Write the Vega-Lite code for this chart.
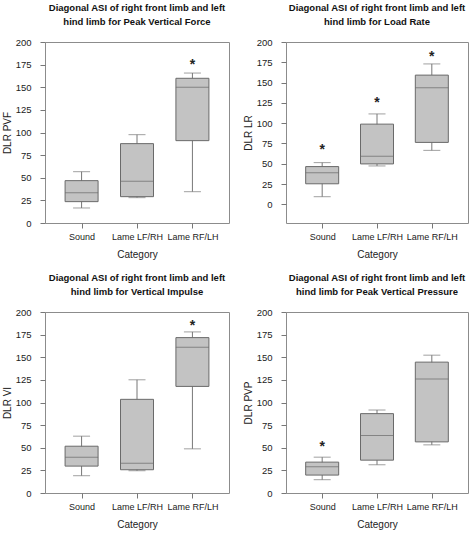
{
  "$schema": "https://vega.github.io/schema/vega-lite/v6.json",
  "padding": {"left": 1, "top": 2, "right": 0, "bottom": 0},
  "background": "white",
  "datasets": {
    "stats": [
      {"panel": "PVF", "category": "Sound", "min": 16.6, "q1": 23.6, "median": 33.5, "q3": 46.8, "max": 56.7, "star": null},
      {"panel": "PVF", "category": "Lame LF/RH", "min": 28.0, "q1": 29.1, "median": 46.0, "q3": 87.7, "max": 97.6, "star": null},
      {"panel": "PVF", "category": "Lame RF/LH", "min": 34.6, "q1": 91.0, "median": 149.9, "q3": 159.9, "max": 165.7, "star": 178},
      {"panel": "LR", "category": "Sound", "min": 9.4, "q1": 25.3, "median": 38.8, "q3": 46.5, "max": 51.4, "star": 70.6},
      {"panel": "LR", "category": "Lame LF/RH", "min": 47.3, "q1": 49.8, "median": 59.2, "q3": 98.8, "max": 111.4, "star": 128.6},
      {"panel": "LR", "category": "Lame RF/LH", "min": 66.5, "q1": 76.3, "median": 143.7, "q3": 159.2, "max": 173.0, "star": 185.7},
      {"panel": "VI", "category": "Sound", "min": 19.1, "q1": 29.7, "median": 39.6, "q3": 51.7, "max": 62.8, "star": null},
      {"panel": "VI", "category": "Lame LF/RH", "min": 24.6, "q1": 25.7, "median": 33.0, "q3": 103.5, "max": 125.1, "star": null},
      {"panel": "VI", "category": "Lame RF/LH", "min": 48.8, "q1": 117.8, "median": 161.1, "q3": 171.7, "max": 178.0, "star": 188},
      {"panel": "PVP", "category": "Sound", "min": 14.7, "q1": 19.8, "median": 29.0, "q3": 34.1, "max": 39.6, "star": 54},
      {"panel": "PVP", "category": "Lame LF/RH", "min": 31.2, "q1": 36.3, "median": 63.5, "q3": 87.7, "max": 91.7, "star": null},
      {"panel": "PVP", "category": "Lame RF/LH", "min": 53.2, "q1": 56.5, "median": 125.9, "q3": 144.6, "max": 152.3, "star": null}
    ]
  },
  "vconcat": [
    {
      "hconcat": [
        {
          "width": 184, "height": 181,
          "title": {"text": ["Diagonal ASI of right front limb and left", "hind limb for Peak Vertical Force"]},
          "data": {"name": "stats"},
          "transform": [{"filter": "datum.panel === 'PVF'"}],
          "encoding": {"x": {"field": "category", "type": "nominal", "sort": ["Sound", "Lame LF/RH", "Lame RF/LH"], "scale": {"type": "point", "padding": 0.66}, "title": "Category"}},
          "layer": [
            {"mark": {"type": "rule", "color": "#777777"}, "encoding": {"y": {"field": "min", "type": "quantitative", "scale": {"domain": [0, 200], "nice": false}, "axis": {"values": [0, 25, 50, 75, 100, 125, 150, 175, 200], "labelOverlap": false}, "title": "DLR PVF"}, "y2": {"field": "max"}}},
            {"mark": {"type": "bar", "width": 33, "fill": "#c3c3c3", "stroke": "#6a6a6a", "strokeWidth": 1}, "encoding": {"y": {"field": "q1", "type": "quantitative", "axis": {"values": [0, 25, 50, 75, 100, 125, 150, 175, 200], "labelOverlap": false}, "title": "DLR PVF"}, "y2": {"field": "q3"}}},
            {"mark": {"type": "tick", "orient": "horizontal", "size": 33, "thickness": 1, "color": "#6a6a6a"}, "encoding": {"y": {"field": "median", "type": "quantitative", "axis": {"values": [0, 25, 50, 75, 100, 125, 150, 175, 200], "labelOverlap": false}, "title": "DLR PVF"}}},
            {"mark": {"type": "tick", "orient": "horizontal", "size": 17, "thickness": 1, "color": "#777777"}, "encoding": {"y": {"field": "min", "type": "quantitative", "axis": {"values": [0, 25, 50, 75, 100, 125, 150, 175, 200], "labelOverlap": false}, "title": "DLR PVF"}}},
            {"mark": {"type": "tick", "orient": "horizontal", "size": 17, "thickness": 1, "color": "#777777"}, "encoding": {"y": {"field": "max", "type": "quantitative", "axis": {"values": [0, 25, 50, 75, 100, 125, 150, 175, 200], "labelOverlap": false}, "title": "DLR PVF"}}},
            {"transform": [{"filter": "datum.star != null"}], "mark": {"type": "text", "text": "*", "fontSize": 14, "fontWeight": "bold", "color": "#222222", "baseline": "middle", "dy": 3}, "encoding": {"y": {"field": "star", "type": "quantitative", "axis": {"values": [0, 25, 50, 75, 100, 125, 150, 175, 200], "labelOverlap": false}, "title": "DLR PVF"}}}
          ]
        },
        {
          "width": 182, "height": 181,
          "title": {"text": ["Diagonal ASI of right front limb and left", "hind limb for Load Rate"]},
          "data": {"name": "stats"},
          "transform": [{"filter": "datum.panel === 'LR'"}],
          "encoding": {"x": {"field": "category", "type": "nominal", "sort": ["Sound", "Lame LF/RH", "Lame RF/LH"], "scale": {"type": "point", "padding": 0.66}, "title": "Category"}},
          "layer": [
            {"mark": {"type": "rule", "color": "#777777"}, "encoding": {"y": {"field": "min", "type": "quantitative", "scale": {"domain": [-23, 200], "nice": false, "zero": false}, "axis": {"values": [0, 25, 50, 75, 100, 125, 150, 175, 200], "labelOverlap": false}, "title": "DLR LR"}, "y2": {"field": "max"}}},
            {"mark": {"type": "bar", "width": 33, "fill": "#c3c3c3", "stroke": "#6a6a6a", "strokeWidth": 1}, "encoding": {"y": {"field": "q1", "type": "quantitative", "axis": {"values": [0, 25, 50, 75, 100, 125, 150, 175, 200], "labelOverlap": false}, "title": "DLR LR"}, "y2": {"field": "q3"}}},
            {"mark": {"type": "tick", "orient": "horizontal", "size": 33, "thickness": 1, "color": "#6a6a6a"}, "encoding": {"y": {"field": "median", "type": "quantitative", "axis": {"values": [0, 25, 50, 75, 100, 125, 150, 175, 200], "labelOverlap": false}, "title": "DLR LR"}}},
            {"mark": {"type": "tick", "orient": "horizontal", "size": 17, "thickness": 1, "color": "#777777"}, "encoding": {"y": {"field": "min", "type": "quantitative", "axis": {"values": [0, 25, 50, 75, 100, 125, 150, 175, 200], "labelOverlap": false}, "title": "DLR LR"}}},
            {"mark": {"type": "tick", "orient": "horizontal", "size": 17, "thickness": 1, "color": "#777777"}, "encoding": {"y": {"field": "max", "type": "quantitative", "axis": {"values": [0, 25, 50, 75, 100, 125, 150, 175, 200], "labelOverlap": false}, "title": "DLR LR"}}},
            {"transform": [{"filter": "datum.star != null"}], "mark": {"type": "text", "text": "*", "fontSize": 14, "fontWeight": "bold", "color": "#222222", "baseline": "middle", "dy": 3}, "encoding": {"y": {"field": "star", "type": "quantitative", "axis": {"values": [0, 25, 50, 75, 100, 125, 150, 175, 200], "labelOverlap": false}, "title": "DLR LR"}}}
          ]
        }
      ],
      "spacing": 12
    },
    {
      "hconcat": [
        {
          "width": 184, "height": 181,
          "title": {"text": ["Diagonal ASI of right front limb and left", "hind limb for Vertical Impulse"]},
          "data": {"name": "stats"},
          "transform": [{"filter": "datum.panel === 'VI'"}],
          "encoding": {"x": {"field": "category", "type": "nominal", "sort": ["Sound", "Lame LF/RH", "Lame RF/LH"], "scale": {"type": "point", "padding": 0.66}, "title": "Category"}},
          "layer": [
            {"mark": {"type": "rule", "color": "#777777"}, "encoding": {"y": {"field": "min", "type": "quantitative", "scale": {"domain": [0, 200], "nice": false}, "axis": {"values": [0, 25, 50, 75, 100, 125, 150, 175, 200], "labelOverlap": false}, "title": "DLR VI"}, "y2": {"field": "max"}}},
            {"mark": {"type": "bar", "width": 33, "fill": "#c3c3c3", "stroke": "#6a6a6a", "strokeWidth": 1}, "encoding": {"y": {"field": "q1", "type": "quantitative", "axis": {"values": [0, 25, 50, 75, 100, 125, 150, 175, 200], "labelOverlap": false}, "title": "DLR VI"}, "y2": {"field": "q3"}}},
            {"mark": {"type": "tick", "orient": "horizontal", "size": 33, "thickness": 1, "color": "#6a6a6a"}, "encoding": {"y": {"field": "median", "type": "quantitative", "axis": {"values": [0, 25, 50, 75, 100, 125, 150, 175, 200], "labelOverlap": false}, "title": "DLR VI"}}},
            {"mark": {"type": "tick", "orient": "horizontal", "size": 17, "thickness": 1, "color": "#777777"}, "encoding": {"y": {"field": "min", "type": "quantitative", "axis": {"values": [0, 25, 50, 75, 100, 125, 150, 175, 200], "labelOverlap": false}, "title": "DLR VI"}}},
            {"mark": {"type": "tick", "orient": "horizontal", "size": 17, "thickness": 1, "color": "#777777"}, "encoding": {"y": {"field": "max", "type": "quantitative", "axis": {"values": [0, 25, 50, 75, 100, 125, 150, 175, 200], "labelOverlap": false}, "title": "DLR VI"}}},
            {"transform": [{"filter": "datum.star != null"}], "mark": {"type": "text", "text": "*", "fontSize": 14, "fontWeight": "bold", "color": "#222222", "baseline": "middle", "dy": 3}, "encoding": {"y": {"field": "star", "type": "quantitative", "axis": {"values": [0, 25, 50, 75, 100, 125, 150, 175, 200], "labelOverlap": false}, "title": "DLR VI"}}}
          ]
        },
        {
          "width": 182, "height": 181,
          "title": {"text": ["Diagonal ASI of right front limb and left", "hind limb for Peak Vertical Pressure"]},
          "data": {"name": "stats"},
          "transform": [{"filter": "datum.panel === 'PVP'"}],
          "encoding": {"x": {"field": "category", "type": "nominal", "sort": ["Sound", "Lame LF/RH", "Lame RF/LH"], "scale": {"type": "point", "padding": 0.66}, "title": "Category"}},
          "layer": [
            {"mark": {"type": "rule", "color": "#777777"}, "encoding": {"y": {"field": "min", "type": "quantitative", "scale": {"domain": [0, 200], "nice": false}, "axis": {"values": [0, 25, 50, 75, 100, 125, 150, 175, 200], "labelOverlap": false}, "title": "DLR PVP"}, "y2": {"field": "max"}}},
            {"mark": {"type": "bar", "width": 33, "fill": "#c3c3c3", "stroke": "#6a6a6a", "strokeWidth": 1}, "encoding": {"y": {"field": "q1", "type": "quantitative", "axis": {"values": [0, 25, 50, 75, 100, 125, 150, 175, 200], "labelOverlap": false}, "title": "DLR PVP"}, "y2": {"field": "q3"}}},
            {"mark": {"type": "tick", "orient": "horizontal", "size": 33, "thickness": 1, "color": "#6a6a6a"}, "encoding": {"y": {"field": "median", "type": "quantitative", "axis": {"values": [0, 25, 50, 75, 100, 125, 150, 175, 200], "labelOverlap": false}, "title": "DLR PVP"}}},
            {"mark": {"type": "tick", "orient": "horizontal", "size": 17, "thickness": 1, "color": "#777777"}, "encoding": {"y": {"field": "min", "type": "quantitative", "axis": {"values": [0, 25, 50, 75, 100, 125, 150, 175, 200], "labelOverlap": false}, "title": "DLR PVP"}}},
            {"mark": {"type": "tick", "orient": "horizontal", "size": 17, "thickness": 1, "color": "#777777"}, "encoding": {"y": {"field": "max", "type": "quantitative", "axis": {"values": [0, 25, 50, 75, 100, 125, 150, 175, 200], "labelOverlap": false}, "title": "DLR PVP"}}},
            {"transform": [{"filter": "datum.star != null"}], "mark": {"type": "text", "text": "*", "fontSize": 14, "fontWeight": "bold", "color": "#222222", "baseline": "middle", "dy": 3}, "encoding": {"y": {"field": "star", "type": "quantitative", "axis": {"values": [0, 25, 50, 75, 100, 125, 150, 175, 200], "labelOverlap": false}, "title": "DLR PVP"}}}
          ]
        }
      ],
      "spacing": 12
    }
  ],
  "spacing": 12,
  "config": {
    "font": "Liberation Sans",
    "view": {"stroke": "#8c8c8c", "strokeWidth": 1},
    "axis": {
      "domain": false, "grid": false,
      "tickColor": "#777777", "tickSize": 5,
      "labelOverlap": false, "labelFlush": false,
      "labelFont": "Liberation Sans", "labelFontSize": 9.5, "labelColor": "#222222",
      "titleFont": "Liberation Sans", "titleFontSize": 10, "titleFontWeight": "normal", "titleColor": "#222222"
    },
    "axisY": {"labelPadding": 9, "titlePadding": 3},
    "axisX": {"labelPadding": 4, "titlePadding": 8, "labelAngle": 0, "labelFontSize": 9},
    "title": {"font": "Liberation Sans", "fontSize": 9.5, "fontWeight": "bold", "color": "#111111", "anchor": "middle", "frame": "group", "offset": 11, "lineHeight": 13.5}
  }
}
